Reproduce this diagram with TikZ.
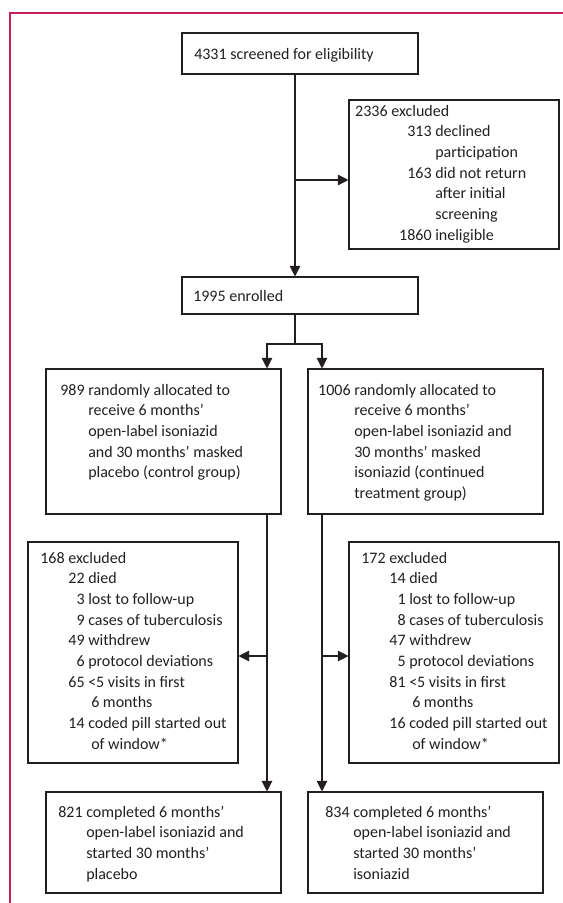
\documentclass[tikz,border=0pt]{standalone}
\usepackage{fontspec}
\setmainfont{Carlito}
\usetikzlibrary{arrows.meta,fit,calc}
\newdimen\pxu \pxu=0.75pt
\definecolor{framecol}{RGB}{200,30,90}
\definecolor{ink}{RGB}{35,31,32}
\newcommand\ent[3]{\noindent\hspace*{#1\pxu}\llap{#2\space}#3\par}
\tikzset{
  box/.style={draw=ink, line width=0.8pt, inner sep=0pt},
  txt/.style={inner sep=0pt, anchor=base west, text=ink, font=\fontsize{12}{15.5}\selectfont},
  arr/.style={draw=ink, line width=0.8pt, -{Triangle[length=8pt,width=8pt]}},
  ln/.style={draw=ink, line width=0.8pt},
  frameline/.style={draw=framecol, line width=1.4pt},
}
\begin{document}
\begin{tikzpicture}[x=0.75pt,y=-0.75pt]
\useasboundingbox (0,0) rectangle (563,903);
% frame
\draw[frameline] (10,903) -- (10,13) -- (563,13);

% boxes
\node[box, fit={(182,33) (418,74)}] (A) {};
\node[box, fit={(349,100) (559,249)}] (B) {};
\node[box, fit={(182,277) (418,314)}] (C) {};
\node[box, fit={(46,369) (281,514)}] (D) {};
\node[box, fit={(308,369) (543,514)}] (E) {};
\node[box, fit={(28,542) (238,763)}] (F) {};
\node[box, fit={(349,542) (559,763)}] (G) {};
\node[box, fit={(46,792) (281,893)}] (H) {};
\node[box, fit={(308,792) (543,893)}] (I) {};

% texts
\node[txt] (At) at (194,59) {4331 screened for eligibility};
\node[txt] (Bt) at (349,116) {\parbox[t]{250\pxu}{%
  \ent{42}{2336}{excluded}
  \ent{86}{313}{declined}
  \ent{86}{}{participation}
  \ent{86}{163}{did not return}
  \ent{86}{}{after initial}
  \ent{86}{}{screening}
  \ent{86}{1860}{ineligible}}};
\node[txt] (Ct) at (193,301) {1995 enrolled};
\node[txt] (Dt) at (46,395) {\parbox[t]{300\pxu}{%
  \ent{42}{989}{randomly allocated to}
  \ent{42}{}{receive 6 months’}
  \ent{42}{}{open-label isoniazid}
  \ent{42}{}{and 30 months’ masked}
  \ent{42}{}{placebo (control group)}}};
\node[txt] (Et) at (308,395) {\parbox[t]{300\pxu}{%
  \ent{46}{1006}{randomly allocated to}
  \ent{46}{}{receive 6 months’}
  \ent{46}{}{open-label isoniazid and}
  \ent{46}{}{30 months’ masked}
  \ent{46}{}{isoniazid (continued}
  \ent{46}{}{treatment group)}}};
\node[txt] (Ft) at (28,563) {\parbox[t]{300\pxu}{%
  \ent{40}{168}{excluded}
  \ent{60}{22}{died}
  \ent{60}{3}{lost to follow-up}
  \ent{60}{9}{cases of tuberculosis}
  \ent{60}{49}{withdrew}
  \ent{60}{6}{protocol deviations}
  \ent{60}{65}{<5 visits in first}
  \ent{63}{}{6 months}
  \ent{60}{14}{coded pill started out}
  \ent{63}{}{of window*}}};
\node[txt] (Gt) at (349,563) {\parbox[t]{300\pxu}{%
  \ent{40}{172}{excluded}
  \ent{60}{14}{died}
  \ent{60}{1}{lost to follow-up}
  \ent{60}{8}{cases of tuberculosis}
  \ent{60}{47}{withdrew}
  \ent{60}{5}{protocol deviations}
  \ent{60}{81}{<5 visits in first}
  \ent{63}{}{6 months}
  \ent{60}{16}{coded pill started out}
  \ent{63}{}{of window*}}};
\node[txt] (Ht) at (46,817) {\parbox[t]{300\pxu}{%
  \ent{40}{821}{completed 6 months’}
  \ent{40}{}{open-label isoniazid and}
  \ent{40}{}{started 30 months’}
  \ent{40}{}{placebo}}};
\node[txt] (It) at (308,817) {\parbox[t]{300\pxu}{%
  \ent{45}{834}{completed 6 months’}
  \ent{45}{}{open-label isoniazid and}
  \ent{45}{}{started 30 months’}
  \ent{45}{}{isoniazid}}};

% connector helper coordinates
\coordinate (t) at (295,0);
\coordinate (jB) at (295,180);
\coordinate (br) at (295,344);
\coordinate (lx) at (267,0);
\coordinate (rx) at (322,0);
\coordinate (jF) at (267,656);
\coordinate (jG) at (322,656);

% connectors
\draw[arr] (A.south -| t) -- (C.north -| t);
\draw[arr] (jB) -- (jB -| B.west);
\draw[ln] (C.south -| br) -- (br);
\draw[arr] (br) -| (D.north -| lx);
\draw[arr] (br) -| (E.north -| rx);
\draw[arr] (D.south -| lx) -- (H.north -| lx);
\draw[arr] (E.south -| rx) -- (I.north -| rx);
\draw[arr] (jF) -- (jF -| F.east);
\draw[arr] (jG) -- (jG -| G.west);
\end{tikzpicture}
\end{document}
